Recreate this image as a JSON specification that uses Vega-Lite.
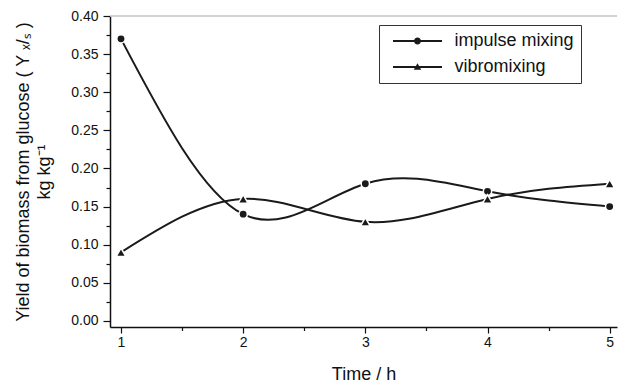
{
  "$schema": "https://vega.github.io/schema/vega-lite/v6.json",
  "autosize": "none",
  "width": 507,
  "height": 311,
  "padding": {"left": 110, "top": 16, "right": 2, "bottom": 58},
  "background": "white",
  "config": {
    "font": "Liberation Sans",
    "view": {"stroke": null},
    "axis": {"labelFont": "Liberation Sans", "titleFont": "Liberation Sans", "labelColor": "#111", "titleColor": "#111", "domainColor": "#111", "tickColor": "#111", "grid": false}
  },
  "data": {
    "values": [
      {"time": 1, "series": "impulse mixing", "y": 0.37},
      {"time": 2, "series": "impulse mixing", "y": 0.14},
      {"time": 3, "series": "impulse mixing", "y": 0.18},
      {"time": 4, "series": "impulse mixing", "y": 0.17},
      {"time": 5, "series": "impulse mixing", "y": 0.15},
      {"time": 1, "series": "vibromixing", "y": 0.09},
      {"time": 2, "series": "vibromixing", "y": 0.16},
      {"time": 3, "series": "vibromixing", "y": 0.13},
      {"time": 4, "series": "vibromixing", "y": 0.16},
      {"time": 5, "series": "vibromixing", "y": 0.18}
    ]
  },
  "resolve": {"scale": {"shape": "independent"}, "axis": {"x": "independent", "y": "independent"}},
  "layer": [
    {
      "data": {"values": [{"v": 0.4}]},
      "mark": {"type": "rule", "color": "#c4c4c4", "strokeWidth": 1.5},
      "encoding": {
        "y": {"field": "v", "type": "quantitative", "scale": {"domain": [-0.008, 0.4], "nice": false, "zero": false}, "axis": null}
      }
    },
    {
      "mark": {"type": "line", "interpolate": "natural", "color": "#1a1a1a", "strokeWidth": 2},
      "encoding": {
        "x": {"field": "time", "type": "quantitative", "scale": {"domain": [0.91, 5.06], "nice": false, "zero": false},
          "axis": {"title": "Time / h", "values": [1, 2, 3, 4, 5], "format": "d", "labelFontSize": 14, "titleFontSize": 18, "titleFontWeight": "normal", "tickSize": 6, "tickWidth": 1.2, "domainWidth": 1.5, "labelPadding": 2, "titlePadding": 16}},
        "y": {"field": "y", "type": "quantitative", "scale": {"domain": [-0.008, 0.4], "nice": false, "zero": false},
          "axis": {"title": ["Yield of biomass from glucose ( Y ₓ/ₛ )", "kg kg⁻¹"], "values": [0, 0.05, 0.1, 0.15, 0.2, 0.25, 0.3, 0.35, 0.4], "format": ".2f", "labelFontSize": 14, "titleFontSize": 18, "titleFontWeight": "normal", "titleLineHeight": 21, "tickSize": 7, "tickWidth": 1.2, "domainWidth": 1.5, "labelPadding": 5, "titlePadding": 17}},
        "detail": {"field": "series"}
      }
    },
    {
      "mark": {"type": "point", "filled": true, "color": "#1a1a1a", "opacity": 1, "stroke": "white", "strokeWidth": 1.5, "strokeOpacity": 1},
      "encoding": {
        "x": {"field": "time", "type": "quantitative",
          "axis": {"orient": "bottom", "title": null, "values": [1.5, 2.5, 3.5, 4.5], "labels": false, "domain": false, "tickSize": 3.5, "tickWidth": 1.2}},
        "y": {"field": "y", "type": "quantitative",
          "axis": {"orient": "left", "title": null, "values": [0.025, 0.075, 0.125, 0.175, 0.225, 0.275, 0.325, 0.375], "labels": false, "domain": false, "tickSize": 4, "tickWidth": 1.2}},
        "shape": {"field": "series", "type": "nominal", "scale": {"range": ["circle", "triangle-up"]}, "legend": null},
        "size": {"field": "series", "type": "nominal", "scale": {"range": [70, 95]}, "legend": null}
      }
    },
    {
      "mark": {"type": "point", "filled": true, "color": "#1a1a1a", "opacity": 0},
      "encoding": {
        "x": {"field": "time", "type": "quantitative", "axis": null},
        "y": {"field": "y", "type": "quantitative", "axis": null},
        "shape": {"field": "series", "type": "nominal",
          "scale": {"range": ["M-4.9,-0.2H4.9V0.2H-4.9ZM-0.7,0A0.7,0.7,0,1,1,0.7,0A0.7,0.7,0,1,1,-0.7,0Z", "M-4.9,-0.2H4.9V0.2H-4.9ZM0,-0.75L0.75,0.55L-0.75,0.55Z"]},
          "legend": {"title": null, "orient": "none", "legendX": 269, "legendY": 9, "strokeColor": "#333", "padding": 7, "labelFont": "Liberation Sans", "labelFontSize": 18, "labelColor": "#111", "symbolSize": 100, "rowPadding": 8, "symbolOffset": 22.5, "labelOffset": 28, "symbolOpacity": 1, "symbolFillColor": "#1a1a1a", "symbolStrokeColor": "#1a1a1a", "symbolStrokeWidth": 0,
            "encode": {"symbols": {"update": {"opacity": {"value": 1}, "fill": {"value": "#1a1a1a"}}}}}
        }
      }
    }
  ]
}
